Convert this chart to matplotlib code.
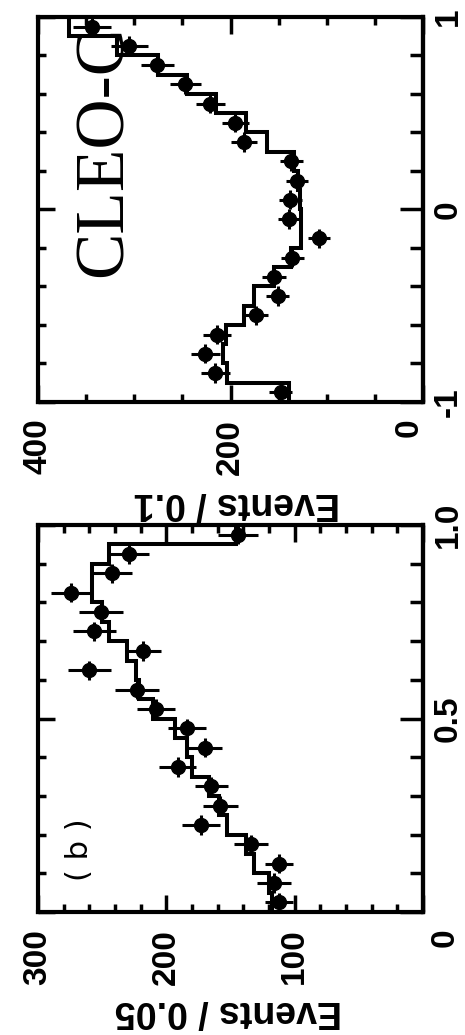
import numpy as np
import matplotlib
matplotlib.use("Agg")
import matplotlib.pyplot as plt
from matplotlib.transforms import ScaledTranslation

# panel (a): cos(theta) from -1 to 1, bins of 0.1
edges_a = np.round(np.arange(-1.0, 1.0001, 0.1), 2)
data_a = [148, 216, 226, 214, 174, 151, 155, 136, 108, 139,
          138, 131, 137, 186, 195, 221, 247, 276, 305, 344]
err_a = [12, 15, 15, 15, 13, 12, 12.5, 12, 11, 12,
         12, 11.5, 12, 13.5, 14, 15, 16, 17, 19, 20]
fit_a = [139, 204, 208, 205, 186, 176, 155, 137, 127, 127,
         128, 130, 134, 162, 184, 215, 245, 275, 318, 368]

# panel (b): cos from 0 to 1, bins of 0.05
edges_b = np.round(np.arange(0.0, 1.0001, 0.05), 3)
data_b = [112, 116, 112, 134, 173, 158, 165, 191, 170, 184,
          208, 223, 260, 218, 256, 251, 274, 242, 229, 144]
err_b = [11, 13, 11, 13, 15, 13.5, 13, 14.5, 13, 15,
         15, 17, 16.5, 14, 17, 17, 16, 15, 15.5, 15.5]
fit_b = [118, 120, 132, 138, 153, 159, 167, 180, 184, 193,
         210, 221, 224, 231, 245, 250, 258, 258, 245, 146]

LBL = dict(family="Liberation Sans", weight="bold", size=24)


def draw_panel(ax, edges, data, err, fit, cmax, cticks, cminor, cticklabels,
               yticks, yminor, yticklabels, ylabel):
    edges = np.asarray(edges)
    centers = (edges[:-1] + edges[1:]) / 2
    half = (edges[1:] - edges[:-1]) / 2

    # fit histogram as steps, counts along the horizontal
    ax.stairs(fit, edges, orientation="horizontal", baseline=None,
              color="black", lw=2.9)
    ax.errorbar(data, centers, xerr=err, yerr=half, fmt="o", color="black",
                ms=10, elinewidth=2.2, capsize=0)

    ax.set_xlim(cmax, 0)
    ax.set_ylim(edges[0], edges[-1])

    for s in ax.spines.values():
        s.set_linewidth(3)

    ax.set_xticks(cticks)
    ax.set_xticks(cminor, minor=True)
    ax.set_xticklabels(cticklabels, rotation=90, va="top", ha="center", **LBL)
    ax.set_yticks(yticks)
    ax.set_yticks(yminor, minor=True)
    ax.set_yticklabels([])
    ax.tick_params(which="both", direction="in", top=True, bottom=True,
                   left=True, right=False, width=2.5)
    ax.tick_params(which="major", length=12.2)
    ax.tick_params(which="minor", length=5.8)
    ax.tick_params(axis="x", pad=12)

    sec = ax.secondary_yaxis("right")
    sec.set_yticks(yticks)
    sec.set_yticks(yminor, minor=True)
    sec.set_yticklabels(yticklabels, rotation=90, va="center", ha="left", **LBL)
    sec.tick_params(which="both", direction="in", width=2.5, pad=7)
    sec.tick_params(which="major", length=16.6)
    sec.tick_params(which="minor", length=9.4)
    sec.spines["right"].set_linewidth(3)

    ax.set_xlabel(ylabel, rotation=180, family="Liberation Sans",
                  weight="bold", size=27, va="top", ha="center")
    return sec


def nudge(label, dx_px, dy_px):
    off = ScaledTranslation(dx_px / 100, dy_px / 100, fig.dpi_scale_trans)
    label.set_transform(label.get_transform() + off)


fig = plt.figure(figsize=(4.65, 10.35), dpi=100)
ax_a = fig.add_axes([0.0817, 0.6116, 0.828, 0.372])
ax_b = fig.add_axes([0.0817, 0.1188, 0.828, 0.3739])

sec_a = draw_panel(ax_a, edges_a, data_a, err_a, fit_a, 400,
                   [0, 200, 400], [50, 100, 150, 250, 300, 350],
                   ["0", "200", "400"],
                   [-1, 0, 1], [-0.8, -0.6, -0.4, -0.2, 0.2, 0.4, 0.6, 0.8],
                   ["-1", "0", "1"], "Events / 0.1")
ax_a.xaxis.set_label_coords(0.516, -0.216)
ax_a.text(0.174, 0.652, "CLEO-C", transform=ax_a.transAxes, rotation=90,
          ha="center", va="center", family="Liberation Serif", size=50)

# lower panel: a single "0" serves both axes at the corner
sec_b = draw_panel(ax_b, edges_b, data_b, err_b, fit_b, 300,
                   [0, 100, 200, 300],
                   [20, 40, 60, 80, 120, 140, 160, 180, 220, 240, 260, 280],
                   ["0", "100", "200", "300"],
                   [0, 0.5, 1.0], [0.1, 0.2, 0.3, 0.4, 0.6, 0.7, 0.8, 0.9],
                   ["", "0.5", "1.0"], "Events / 0.05")
ax_b.xaxis.set_label_coords(0.495, -0.209)
ax_b.text(0.109, 0.160, "( b )", transform=ax_b.transAxes, rotation=90,
          ha="center", va="center", family="DejaVu Sans", size=22)

# the zero labels sit off their ticks in the original
nudge(ax_a.xaxis.get_major_ticks()[0].label1, -14, 0)
nudge(ax_b.xaxis.get_major_ticks()[0].label1, 22, 0)

fig.savefig("out.png", dpi=100)
